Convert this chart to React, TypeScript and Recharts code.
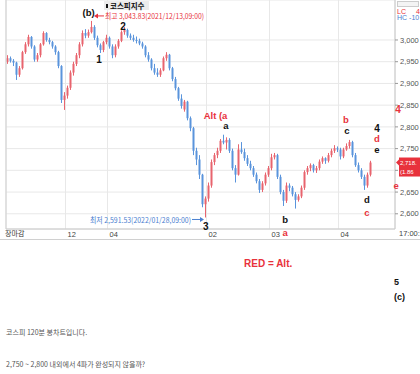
import React from "react";
import {
  ComposedChart,
  Bar,
  XAxis,
  YAxis,
  CartesianGrid,
  ReferenceLine,
  ReferenceDot,
} from "recharts";

// 코스피 120분봉 [open, high, low, close]
const novBars = [
  [2950, 2965, 2945, 2958], [2958, 2962, 2948, 2952], [2952, 2956, 2940, 2948], [2948, 2950, 2908, 2920],
  [2920, 2940, 2915, 2935], [2935, 2975, 2932, 2972], [2972, 2995, 2968, 2990], [2990, 3012, 2985, 3007],
  [3007, 3009, 2980, 2985], [2985, 2988, 2950, 2955], [2955, 2970, 2950, 2965], [2965, 2993, 2960, 2990],
  [2990, 3020, 2987, 3016], [3016, 3018, 2996, 3000], [3000, 3005, 2990, 2995], [2995, 2998, 2980, 2985],
  [2985, 2988, 2966, 2972], [2972, 2975, 2935, 2940], [2940, 2942, 2855, 2862], [2862, 2880, 2839, 2872],
];
const decBars = [
  [2872, 2895, 2865, 2890], [2890, 2930, 2885, 2925], [2925, 2950, 2918, 2945], [2945, 2970, 2940, 2965],
  [2965, 2995, 2958, 2990], [2990, 3022, 2985, 3016], [3016, 3025, 3004, 3010], [3010, 3024, 3005, 3018],
  [3018, 3043.83, 3015, 3030], [3030, 3034, 3000, 3005], [3005, 3010, 2983, 2988], [2988, 2992, 2970, 2977],
  [2977, 2998, 2972, 2995], [2995, 3012, 2990, 3005], [3005, 3008, 2980, 2985], [2985, 2990, 2958, 2965],
  [2965, 2990, 2960, 2985], [2985, 3002, 2980, 2998], [2998, 3022, 2995, 3018], [3018, 3030, 3012, 3023],
  [3023, 3026, 3005, 3010], [3010, 3015, 3000, 3005], [3005, 3012, 2996, 3000], [3000, 3008, 2992, 2998],
  [2998, 3003, 2988, 2992],
];
const janBars = [
  [2992, 2996, 2980, 2985], [2985, 2988, 2960, 2965], [2965, 2972, 2950, 2955], [2955, 2958, 2930, 2935],
  [2935, 2945, 2920, 2925], [2925, 2935, 2915, 2920], [2920, 2935, 2915, 2930], [2930, 2962, 2928, 2958],
  [2958, 2972, 2952, 2966], [2966, 2968, 2930, 2935], [2935, 2938, 2905, 2910], [2910, 2915, 2884, 2889],
  [2889, 2892, 2860, 2865], [2865, 2875, 2842, 2848], [2840, 2862, 2835, 2858], [2858, 2860, 2815, 2820],
  [2820, 2824, 2790, 2797], [2797, 2800, 2735, 2745], [2745, 2752, 2712, 2725], [2725, 2735, 2680, 2690],
  [2690, 2692, 2615, 2622], [2622, 2640, 2591.53, 2635], [2635, 2672, 2628, 2665],
];
const febBars = [
  [2665, 2725, 2660, 2719], [2719, 2740, 2712, 2735], [2735, 2752, 2728, 2745], [2745, 2772, 2740, 2768],
  [2768, 2782, 2760, 2764], [2764, 2776, 2748, 2770], [2770, 2774, 2740, 2745], [2745, 2750, 2700, 2705],
  [2705, 2712, 2672, 2690], [2690, 2760, 2688, 2748], [2748, 2765, 2738, 2742], [2742, 2750, 2722, 2728],
  [2728, 2735, 2710, 2715], [2715, 2722, 2700, 2705], [2705, 2710, 2685, 2690], [2690, 2695, 2670, 2675],
  [2675, 2680, 2648, 2655], [2655, 2675, 2650, 2670], [2670, 2695, 2665, 2690], [2690, 2710, 2685, 2705],
  [2705, 2738, 2700, 2730],
];
const marBars = [
  [2730, 2740, 2725, 2735], [2735, 2738, 2680, 2685], [2685, 2690, 2645, 2650], [2650, 2655, 2618, 2630],
  [2630, 2672, 2625, 2665], [2665, 2670, 2652, 2660], [2660, 2664, 2640, 2645], [2645, 2650, 2612, 2632],
  [2632, 2645, 2628, 2640], [2640, 2665, 2636, 2660], [2660, 2700, 2655, 2696], [2696, 2710, 2690, 2705],
  [2705, 2716, 2698, 2712], [2712, 2715, 2695, 2700], [2700, 2710, 2694, 2705], [2705, 2725, 2700, 2720],
  [2720, 2732, 2715, 2728], [2728, 2730, 2715, 2722], [2722, 2740, 2718, 2735], [2735, 2750, 2730, 2745],
  [2745, 2758, 2740, 2751], [2751, 2755, 2742, 2748], [2748, 2752, 2725, 2732],
];
const aprBars = [
  [2732, 2752, 2728, 2748], [2748, 2762, 2745, 2756], [2756, 2770, 2750, 2765], [2765, 2768, 2730, 2735],
  [2735, 2740, 2708, 2712], [2712, 2718, 2695, 2700], [2700, 2705, 2680, 2685], [2685, 2690, 2655, 2665],
  [2665, 2695, 2660, 2690], [2690, 2722, 2686, 2718],
];

const priceTicks = [2600, 2650, 2700, 2750, 2800, 2850, 2900, 2950, 3000];
const monthMarks = [
  { at: 19.5, label: "12" },
  { at: 33.5, label: "04" },
  { at: 66.5, label: "02" },
  { at: 87.5, label: "03" },
  { at: 110.5, label: "04" },
];
const blackWaves = [
  { i: 27.2, price: 3064, text: "(b)" },
  { i: 30.7, price: 2956, text: "1" },
  { i: 38.7, price: 3031, text: "2" },
  { i: 73, price: 2804, text: "a" },
  { i: 66.3, price: 2570, text: "3" },
  { i: 92.7, price: 2588, text: "b" },
  { i: 113.3, price: 2791, text: "c" },
  { i: 123.3, price: 2797, text: "4" },
  { i: 123.3, price: 2748, text: "e" },
  { i: 120, price: 2632, text: "d" },
];
const redWaves = [
  { i: 69.5, price: 2827, text: "Alt (a" },
  { i: 92.7, price: 2558, text: "a" },
  { i: 113, price: 2818, text: "b" },
  { i: 123.3, price: 2773, text: "d" },
  { i: 130.3, price: 2841, text: "4" },
  { i: 120, price: 2602, text: "c" },
  { i: 129.7, price: 2666, text: "e" },
];

const bars = [...novBars, ...decBars, ...janBars, ...febBars, ...marBars, ...aprBars];
const data = bars.map(([open, high, low, close], i) => ({ i, open, high, low, close, range: [low, high] }));
const last = data[data.length - 1];
const highBar = data.reduce((a, b) => (b.high > a.high ? b : a));
const lowBar = data.reduce((a, b) => (b.low < a.low ? b : a));

const X_DOMAIN: [number, number] = [-0.33, 129.33];
const UP = "#e8646e";
const DOWN = "#5a94dc";
const RED = "#e8323c";
const BLUE_TXT = "#4a80d0";
const FONT = '"Liberation Sans", Arial, "Noto Sans CJK KR", sans-serif';
const KFONT = '"Noto Sans CJK KR", "Liberation Sans", sans-serif';

function Candle(props: any) {
  const { x, y, width, height, payload } = props;
  if (!payload || height == null || isNaN(y)) return null;
  const { open, high, low, close } = payload;
  const k = high > low ? height / (high - low) : 0;
  const yO = y + (high - open) * k;
  const yC = y + (high - close) * k;
  const color = close >= open ? UP : DOWN;
  const cx = x + width / 2;
  return (
    <g>
      <line x1={cx} x2={cx} y1={y} y2={y + height} stroke={color} strokeWidth={1} />
      <rect x={cx - 1} y={Math.min(yO, yC)} width={2} height={Math.max(1, Math.abs(yO - yC))} fill={color} />
    </g>
  );
}

function MonthTick({ x, y, payload }: any) {
  const m = monthMarks.find((mm) => mm.at === payload.value);
  return (
    <text x={x + 2} y={y + 8} fontSize={7.5} fill="#444">
      {m ? m.label : ""}
    </text>
  );
}

// 현재가 박스에 가려지는 눈금 라벨은 그리지 않음
function PriceTick({ x, y, payload }: any) {
  if (Math.abs(payload.value - last.close) < 25) return null;
  return (
    <text x={x} y={y} dy="0.35em" fontSize={7.5} fill="#555">
      {payload.value.toLocaleString("en-US")}
    </text>
  );
}

function waveShape(text: string, color: string) {
  const size = /^[0-9]$/.test(text) ? 10 : 9.5;
  return (p: any) => (
    <text x={p.cx} y={p.cy} textAnchor="middle" dominantBaseline="central" fill={color}
      fontSize={size} fontWeight="bold" fontFamily={FONT}>
      {text}
    </text>
  );
}

function HighCallout({ cx, cy }: any) {
  const y = cy - 5;
  return (
    <g>
      <line x1={cx + 5} x2={cx + 13} y1={y} y2={y} stroke={RED} strokeWidth={1} />
      <path d={`M${cx + 3},${y} l4,-2.5 v5 z`} fill={RED} />
      <text x={cx + 14} y={y} dominantBaseline="central" fontSize={7.5} fill={RED}
        textLength={99} lengthAdjust="spacingAndGlyphs" fontFamily={KFONT}>
        최고 3,043.83(2021/12/13,09:00)
      </text>
    </g>
  );
}

function LowCallout({ cx, cy }: any) {
  const y = cy + 2;
  return (
    <g>
      <line x1={cx - 13} x2={cx - 4} y1={y} y2={y} stroke={BLUE_TXT} strokeWidth={1} />
      <path d={`M${cx - 1},${y} l-4,-2.5 v5 z`} fill={BLUE_TXT} />
      <text x={cx - 14} y={y} textAnchor="end" dominantBaseline="central" fontSize={7.5} fill={BLUE_TXT}
        textLength={101} lengthAdjust="spacingAndGlyphs" fontFamily={KFONT}>
        최저 2,591.53(2022/01/28,09:00)
      </text>
    </g>
  );
}

function PriceTag({ cx, cy }: any) {
  return (
    <g>
      <path d={`M${cx + 1},${cy} l3,-3 v6 z`} fill={RED} />
      <rect x={cx + 4} y={cy - 5} width={26} height={19} fill={RED} />
      <text x={cx + 5} y={cy + 2} fill="#fff" fontSize={6}>2,718.</text>
      <text x={cx + 5} y={cy + 11.5} fill="#fff" fontSize={6}>(1.86</text>
    </g>
  );
}

const abs = (left: number, top: number, extra: React.CSSProperties = {}): React.CSSProperties => ({
  position: "absolute",
  left,
  top,
  lineHeight: 1,
  whiteSpace: "nowrap",
  ...extra,
});

export default function App() {
  return (
    <div style={{ position: "fixed", left: 0, top: 0, width: 420, height: 374, background: "#fff", overflow: "hidden", fontFamily: FONT }}>
      <ComposedChart width={420} height={240} data={data} margin={{ top: 0, right: 0, bottom: 1, left: 6 }}>
        <CartesianGrid stroke="#e8e8e8" />
        <XAxis type="number" dataKey="i" domain={X_DOMAIN} ticks={monthMarks.map((m) => m.at)} tick={<MonthTick />}
          tickSize={0} tickMargin={0} height={10} axisLine={{ stroke: "#c8c8c8" }} tickLine={false} interval={0} allowDataOverflow />
        <YAxis orientation="right" domain={[2565, 3092]} ticks={priceTicks} width={25} allowDataOverflow interval={0}
          tick={<PriceTick />} tickSize={3} tickMargin={2}
          axisLine={{ stroke: "#c8c8c8" }} tickLine={{ stroke: "#999" }} />
        <ReferenceLine x={X_DOMAIN[0]} stroke="#cfcfcf" ifOverflow="visible" />
        <Bar dataKey="range" barSize={2} shape={<Candle />} isAnimationActive={false} />
        <ReferenceDot x={highBar.i} y={highBar.high} ifOverflow="visible" shape={(p: any) => <HighCallout cx={p.cx} cy={p.cy} />} />
        <ReferenceDot x={lowBar.i} y={lowBar.low} ifOverflow="visible" shape={(p: any) => <LowCallout cx={p.cx} cy={p.cy} />} />
        <ReferenceDot x={X_DOMAIN[1]} y={last.close} ifOverflow="visible" shape={(p: any) => <PriceTag cx={p.cx} cy={p.cy} />} />
        {blackWaves.map((w, k) => (
          <ReferenceDot key={`b${k}`} x={w.i} y={w.price} ifOverflow="visible" shape={waveShape(w.text, "#111")} />
        ))}
        {redWaves.map((w, k) => (
          <ReferenceDot key={`r${k}`} x={w.i} y={w.price} ifOverflow="visible" shape={waveShape(w.text, RED)} />
        ))}
      </ComposedChart>

      {/* 상단 라벨 / 범례 */}
      <div style={abs(104, 1, { width: 45, height: 9, background: "#ececec", fontFamily: KFONT, fontSize: 7.5, fontWeight: "bold", color: "#111", display: "flex", alignItems: "center" })}>
        <span style={{ display: "inline-block", width: 2, height: 4, background: "#111", margin: "0 2px 0 2px" }} />
        코스피지수
      </div>
      <div style={abs(397, 1, { width: 22, height: 6, border: "1px solid #ccc", background: "#f4f4f4", boxSizing: "border-box" })} />
      <div style={abs(397, 8, { fontSize: 7, color: RED })}>LC<span style={{ marginLeft: 10 }}>4</span></div>
      <div style={abs(397, 14, { fontSize: 7, color: BLUE_TXT })}>HC -10</div>

      {/* 하단 축 */}
      <div style={abs(5, 230, { fontFamily: KFONT, fontSize: 7, color: "#333" })}>장마감</div>
      <div style={abs(399, 230, { fontSize: 7.5, color: "#444" })}>17:00:</div>
      <div style={abs(0, 239, { width: 420, height: 1, background: "#d0d0d0" })} />

      {/* 본문 */}
      <div style={abs(244, 259, { fontSize: 10, fontWeight: "bold", color: RED })}>RED = Alt.</div>
      <div style={abs(394, 278, { fontSize: 9, fontWeight: "bold", color: "#111" })}>5</div>
      <div style={abs(394, 293, { fontSize: 9, fontWeight: "bold", color: "#111" })}>(c)</div>
      <div style={abs(6, 329, { fontFamily: KFONT, fontSize: 7, color: "#555" })}>코스피 120분 봉차트입니다.</div>
      <div style={abs(6, 361, { fontFamily: KFONT, fontSize: 7, color: "#555" })}>2,750 ~ 2,800 내외에서 4파가 완성되지 않을까?</div>
    </div>
  );
}
